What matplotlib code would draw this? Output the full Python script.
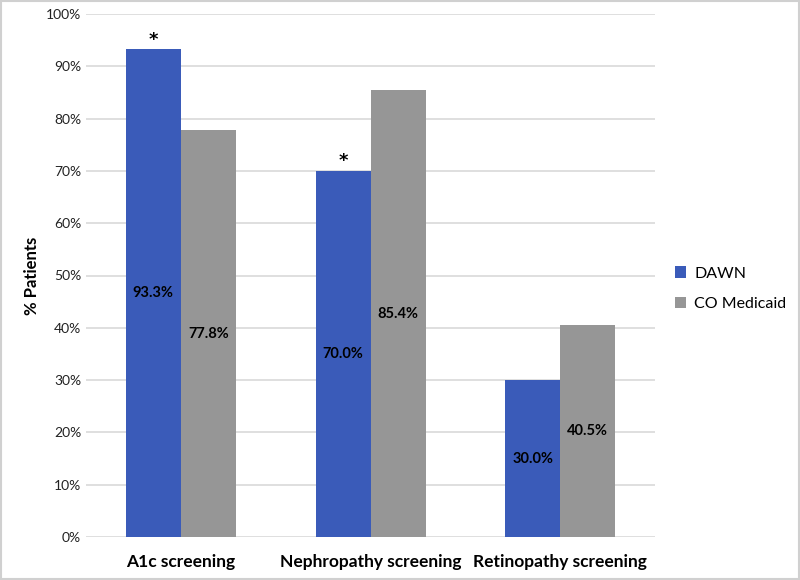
import numpy as np
import matplotlib.pyplot as plt
from matplotlib.patches import Rectangle

# data
categories = ['A1c screening', 'Nephropathy screening', 'Retinopathy screening']
dawn = [93.3, 70.0, 30.0]
medicaid = [77.8, 85.4, 40.5]
dawn_sig = [True, True, False]

blue = '#3A5BB9'
gray = '#969696'

plt.rcParams['font.family'] = ['Lato', 'DejaVu Sans']

fig = plt.figure(figsize=(8, 5.8), dpi=100)
ax = fig.add_axes([0.1075, 0.0741, 0.7113, 0.9018])

x = np.arange(len(categories))
w = 0.29
b1 = ax.bar(x - w / 2, dawn, w, color=blue, label='DAWN', zorder=3)
b2 = ax.bar(x + w / 2, medicaid, w, color=gray, label='CO Medicaid', zorder=3)

for bars, vals in ((b1, dawn), (b2, medicaid)):
    for rect, v in zip(bars, vals):
        ax.text(rect.get_x() + rect.get_width() / 2, v / 2, f'{v:.1f}%',
                ha='center', va='center', fontsize=10.5, fontweight='bold', zorder=4)

for rect, v, s in zip(b1, dawn, dawn_sig):
    if s:
        ax.text(rect.get_x() + rect.get_width() / 2, v + 1.8, '*',
                ha='center', va='center', fontsize=13, fontweight='bold',
                family='DejaVu Sans')

ax.set_xlim(-0.5, len(categories) - 0.5)
ax.set_ylim(0, 100)
ax.set_yticks(np.arange(0, 101, 10))
ax.set_yticklabels([f'{t}%' for t in range(0, 101, 10)], fontsize=10, color='#222222')
ax.set_xticks(x)
ax.set_xticklabels(categories, fontsize=12.5, fontweight='bold')
ax.tick_params(length=0)
ax.tick_params(axis='x', pad=12)
ax.grid(axis='y', color='#d9d9d9', linewidth=1.2, zorder=0)
for sp in ax.spines.values():
    sp.set_visible(False)
ax.set_ylabel('% Patients', fontsize=12, fontweight='bold', labelpad=4)

ax.legend(loc='center left', bbox_to_anchor=(1.01, 0.475), frameon=False,
          fontsize=11.5, handlelength=0.7, handleheight=0.7, handletextpad=0.5,
          labelspacing=1.0)

fig.patches.append(Rectangle((0.001, 0.001), 0.998, 0.998, transform=fig.transFigure,
                             fill=False, edgecolor='#d0d0d0', linewidth=1.5))

fig.savefig('out.png', dpi=100)
